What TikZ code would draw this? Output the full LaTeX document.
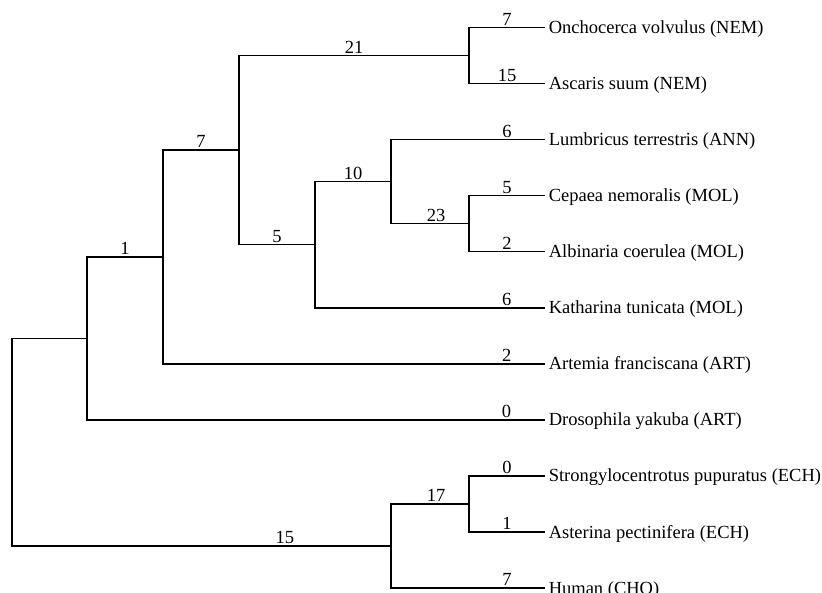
\documentclass[tikz,border=0pt]{standalone}
\usepackage{fontspec}
\setmainfont{Liberation Serif}
\usetikzlibrary{positioning}

\begin{document}
\begin{tikzpicture}[x=1pt, y=-1pt, line width=1.5pt, font=\fontsize{18.5}{22}\selectfont,
		leaf/.style={anchor=west, inner xsep=3pt, inner ysep=0pt, text height=12pt, text depth=0pt},
		len/.style={above, inner sep=1.5pt}]
			\useasboundingbox (0,0) rectangle (822,593);

			\node (onch)[leaf] at (545,  27.5) {Onchocerca volvulus (NEM)};
			\node (asca)[leaf] at (545,  83.6) {Ascaris suum (NEM)};
			\node (lumb)[leaf] at (545, 139.6) {Lumbricus terrestris (ANN)};
			\node (cepa)[leaf] at (545, 195.7) {Cepaea nemoralis (MOL)};
			\node (albi)[leaf] at (545, 251.7) {Albinaria coerulea (MOL)};
			\node (kath)[leaf] at (545, 307.8) {Katharina tunicata (MOL)};
			\node (arte)[leaf] at (545, 363.8) {Artemia franciscana (ART)};
			\node (dros)[leaf] at (545, 419.9) {Drosophila yakuba (ART)};
			\node (stro)[leaf] at (545, 475.9) {Strongylocentrotus pupuratus (ECH)};
			\node (aste)[leaf] at (545, 532.0) {Asterina pectinifera (ECH)};
			\node (huma)[leaf] at (545, 588.0) {Human (CHO)};

			\coordinate (r)  at ( 12, 442.2);
			\coordinate (p1) at ( 87, 338.4);
			\coordinate (p2) at (163, 257.0);
			\coordinate (p3) at (239, 150.1);
			\coordinate (p4) at (469,  55.5);
			\coordinate (p5) at (315, 244.7);
			\coordinate (p6) at (391, 181.7);
			\coordinate (p7) at (469, 223.7);
			\coordinate (q1) at (391, 546.0);
			\coordinate (q2) at (469, 504.0);

			\draw (r)  |- (p1);
			\draw (r)  |- (q1) node[len, pos=0.86] {15};
			\draw (p1) |- (p2) node[len, pos=0.75] {1};
			\draw (p1) |- (dros.west) node[len, pos=0.958] {0};
			\draw (p2) |- (p3) node[len, pos=0.75] {7};
			\draw (p2) |- (arte.west) node[len, pos=0.95] {2};
			\draw (p3) |- (p4) node[len, pos=0.75] {21};
			\draw (p3) |- (p5) node[len, pos=0.75] {5};
			\draw (p4) |- (onch.west) node[len, pos=0.75] {7};
			\draw (p4) |- (asca.west) node[len, pos=0.75] {15};
			\draw (p5) |- (p6) node[len, pos=0.75] {10};
			\draw (p5) |- (kath.west) node[len, pos=0.917] {6};
			\draw (p6) |- (lumb.west) node[len, pos=0.877] {6};
			\draw (p6) |- (p7) node[len, pos=0.79] {23};
			\draw (p7) |- (cepa.west) node[len, pos=0.75] {5};
			\draw (p7) |- (albi.west) node[len, pos=0.75] {2};
			\draw (q1) |- (q2) node[len, pos=0.79] {17};
			\draw (q1) |- (huma.west) node[len, pos=0.877] {7};
			\draw (q2) |- (stro.west) node[len, pos=0.75] {0};
			\draw (q2) |- (aste.west) node[len, pos=0.75] {1};
		\end{tikzpicture}
\end{document}
